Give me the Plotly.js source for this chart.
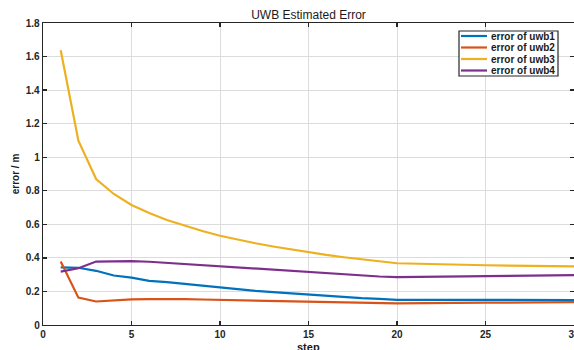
<!DOCTYPE html>
<html>
<head>
<meta charset="utf-8">
<script src="https://cdn.plot.ly/plotly-3.0.1.min.js"></script>
<style>
html,body{margin:0;padding:0;background:#fff;}
#chart{width:574px;height:350px;}
</style>
</head>
<body>
<div id="chart"></div>
<script>
// ---- data ----
const steps = [1,2,3,4,5,6,7,8,9,10,11,12,13,14,15,16,17,18,19,20,25,30];
const uwb1 = [0.344,0.341,0.323,0.295,0.282,0.263,0.256,0.245,0.232,0.221,0.211,0.203,0.196,0.188,0.180,0.172,0.165,0.160,0.156,0.150,0.150,0.149];
const uwb2 = [0.378,0.163,0.140,0.148,0.153,0.154,0.155,0.154,0.152,0.150,0.148,0.146,0.143,0.141,0.139,0.137,0.135,0.133,0.131,0.129,0.133,0.136];
const uwb3 = [1.638,1.098,0.870,0.781,0.715,0.668,0.626,0.592,0.560,0.532,0.508,0.487,0.468,0.450,0.433,0.418,0.404,0.391,0.378,0.368,0.356,0.349];
const uwb4 = [0.318,0.338,0.378,0.380,0.381,0.377,0.370,0.364,0.358,0.352,0.345,0.338,0.332,0.325,0.318,0.311,0.304,0.297,0.289,0.285,0.291,0.297];
const seriesNames = ["error of uwb1","error of uwb2","error of uwb3","error of uwb4"];
const seriesColors = ["#0072BD","#D95319","#EDB120","#7E2F8E"];
const xTicks = [0,5,10,15,20,25,30];
const yTicks = [0,0.2,0.4,0.6,0.8,1,1.2,1.4,1.6,1.8];
const chartTitle = "UWB Estimated Error";
const xLabel = "step";
const yLabel = "error / m";

const seriesValues = [uwb1, uwb2, uwb3, uwb4];
const traces = seriesValues.map((v, i) => ({
  x: steps, y: v, type: 'scatter', mode: 'lines', name: seriesNames[i],
  line: {color: seriesColors[i], width: 2.2}, showlegend: false
}));

// custom MATLAB-like legend box (paper coordinates)
const W = 574, H = 350, mL = 43, mR = 0, mT = 23, mB = 25;
const pw = W - mL - mR, ph = H - mT - mB;
const px = p => (p - mL) / pw;
const py = p => (H - mB - p) / ph;
const shapes = [{
  type: 'rect', xref: 'paper', yref: 'paper',
  x0: px(459), x1: px(558), y0: py(76), y1: py(31),
  line: {color: '#262626', width: 1.2}, fillcolor: '#ffffff', layer: 'above'
}];
const annotations = [];
const rowY = [36, 47.5, 59, 70.5];
seriesNames.forEach((n, i) => {
  shapes.push({
    type: 'line', xref: 'paper', yref: 'paper',
    x0: px(461), x1: px(487), y0: py(rowY[i]), y1: py(rowY[i]),
    line: {color: seriesColors[i], width: 2.2}, layer: 'above'
  });
  annotations.push({
    xref: 'paper', yref: 'paper', x: px(489), y: py(rowY[i]),
    xanchor: 'left', yanchor: 'middle', showarrow: false, text: n,
    font: {family: 'Liberation Sans, Arial, sans-serif', size: 10, color: '#1a1a1a', weight: 'bold'}
  });
});
// x-axis label placed like the reference (partly below the frame edge)
annotations.push({
  xref: 'paper', yref: 'paper', x: px(308.5), y: py(346.5),
  xanchor: 'center', yanchor: 'middle', showarrow: false, text: xLabel,
  font: {family: 'Liberation Sans, Arial, sans-serif', size: 11, color: '#1a1a1a', weight: 'bold'}
});

const tickFont = {family: 'Liberation Sans, Arial, sans-serif', size: 10, color: '#262626', weight: 'bold'};
const layout = {
  width: W, height: H,
  margin: {l: mL, r: mR, t: mT, b: mB, pad: 0},
  paper_bgcolor: '#ffffff', plot_bgcolor: '#ffffff',
  title: {text: chartTitle, font: {family: 'Liberation Sans, Arial, sans-serif', size: 12, color: '#1a1a1a'},
          x: px(308.5), xref: 'paper', xanchor: 'center', y: 1 - 15/H, yanchor: 'middle'},
  xaxis: {
    range: [0, 30], tickvals: xTicks, ticktext: xTicks.map(String),
    ticklabeloverflow: 'allow',
    showgrid: true, gridcolor: '#dcdcdc', gridwidth: 1,
    showline: true, linecolor: '#262626', linewidth: 1.3, mirror: 'ticks',
    ticks: 'inside', ticklen: 4, tickcolor: '#262626', tickwidth: 1.3,
    tickfont: tickFont, zeroline: false
  },
  yaxis: {
    range: [0, 1.8], tickvals: yTicks, ticktext: yTicks.map(String),
    showgrid: true, gridcolor: '#dcdcdc', gridwidth: 1,
    showline: true, linecolor: '#262626', linewidth: 1.3, mirror: 'ticks',
    ticks: 'inside', ticklen: 4, tickcolor: '#262626', tickwidth: 1.3,
    tickfont: tickFont, zeroline: false,
    title: {text: yLabel, font: {family: 'Liberation Sans, Arial, sans-serif', size: 10, color: '#1a1a1a', weight: 'bold'}, standoff: 4}
  },
  shapes: shapes,
  annotations: annotations,
  showlegend: false
};

Plotly.newPlot('chart', traces, layout, {staticPlot: true, displayModeBar: false});
</script>
</body>
</html>
